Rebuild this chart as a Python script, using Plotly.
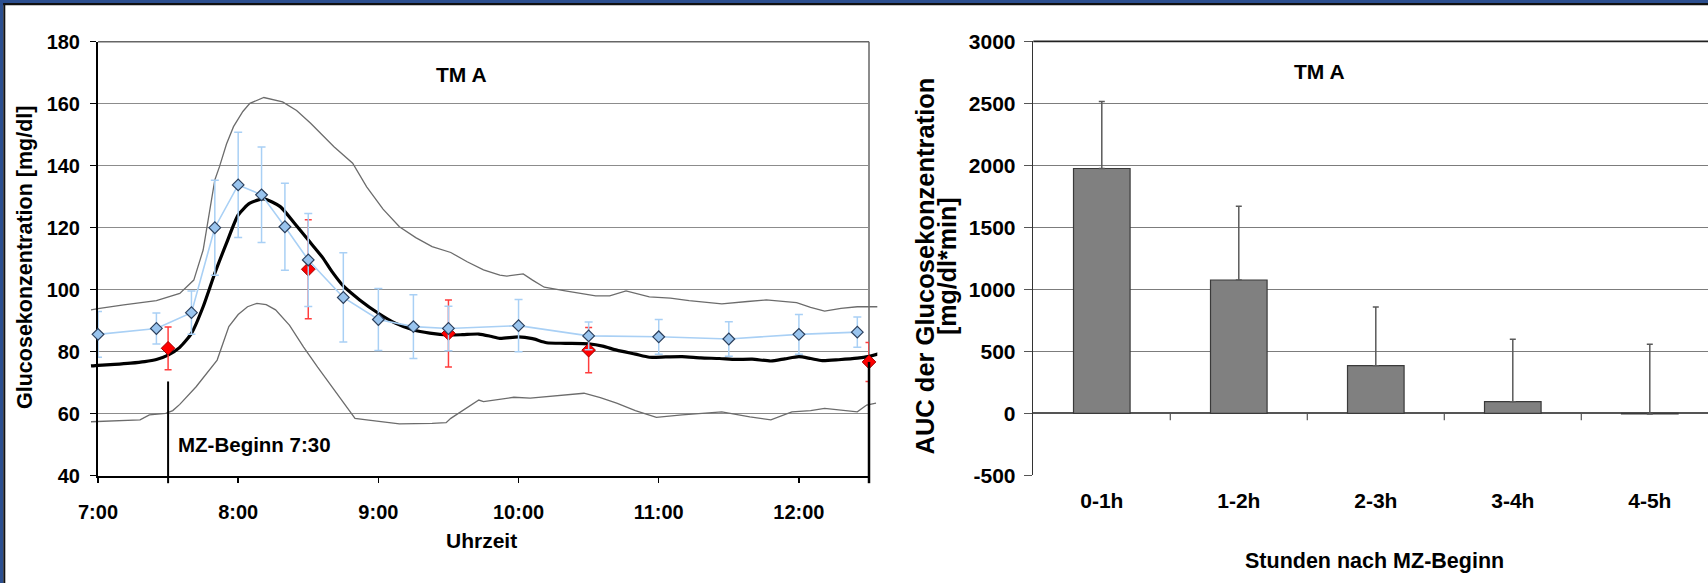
import plotly.graph_objects as go

# ---------------- data ----------------
time_ticks = ["7:00", "8:00", "9:00", "10:00", "11:00", "12:00"]
axis_start, axis_end = "7:00", "12:30"
meal_start = "7:30"
meal_line_top = 70.4          # mg/dl where the "MZ-Beginn" marker line starts

blue_times = ["7:00", "7:25", "7:40", "7:50", "8:00", "8:10", "8:20", "8:30", "8:45", "9:00",
              "9:15", "9:30", "10:00", "10:30", "11:00", "11:30", "12:00", "12:25"]
blue_mean = [85.6, 87.5, 92.6, 120.0, 133.8, 130.6, 120.3, 109.6, 97.5, 90.4,
             88.1, 87.5, 88.4, 85.1, 84.8, 84.1, 85.6, 86.3]
blue_sd = [7.4, 5.0, 7.0, 15.3, 17.0, 15.4, 14.0, 15.0, 14.4, 10.0,
           10.3, 7.2, 8.4, 4.5, 5.6, 5.6, 6.4, 4.9]

red_times = ["7:30", "8:30", "9:30", "10:30", "12:30"]
red_mean = [81.1, 106.6, 85.9, 80.5, 76.7]
red_sd = [6.9, 16.0, 10.8, 7.3, 6.3]

cgm_times = ["6:57", "7:00", "7:07", "7:14", "7:20", "7:25", "7:30", "7:35", "7:40", "7:45",
             "7:50", "7:55", "8:00", "8:05", "8:11", "8:18", "8:24", "8:30", "8:36", "8:40",
             "8:45", "8:52", "9:00", "9:07", "9:15", "9:22", "9:30", "9:36", "9:43", "9:48",
             "9:52", "10:00", "10:06", "10:12", "10:20", "10:30", "10:36", "10:42", "10:50", "10:56",
             "11:03", "11:10", "11:18", "11:26", "11:33", "11:40", "11:48", "11:54", "12:00", "12:05",
             "12:10", "12:17", "12:25", "12:30", "12:34"]
cgm_mean = [75.4, 75.6, 75.9, 76.3, 76.8, 77.5, 78.9, 81.4, 85.9, 94.5,
            105.3, 115.0, 124.1, 127.9, 129.3, 126.8, 121.5, 116.0, 110.5, 106.0,
            101.2, 96.7, 92.4, 89.3, 87.0, 86.0, 85.4, 85.5, 85.7, 85.0,
            84.3, 84.8, 84.2, 82.9, 82.7, 82.5, 81.8, 80.5, 79.2, 78.2,
            78.3, 78.4, 78.0, 77.8, 77.5, 77.6, 77.0, 77.7, 78.4, 77.8,
            77.1, 77.4, 77.9, 78.5, 79.3]

upper_times = ["6:57", "7:00", "7:11", "7:25", "7:35", "7:41", "7:45", "7:48", "7:50", "7:52",
               "7:55", "7:58", "8:02", "8:05", "8:11", "8:19", "8:25", "8:31", "8:41", "8:49",
               "8:55", "9:02", "9:09", "9:16", "9:23", "9:31", "9:38", "9:45", "9:52", "9:55",
               "10:02", "10:06", "10:11", "10:20", "10:33", "10:39", "10:46", "10:56", "11:05", "11:13",
               "11:27", "11:38", "11:46", "11:59", "12:05", "12:11", "12:18", "12:25", "12:34"]
upper_vals = [93.5, 93.9, 95.1, 96.5, 98.8, 103.1, 112.8, 126.0, 135.4, 139.7,
              147.0, 152.6, 157.5, 160.1, 162.0, 160.6, 157.8, 153.7, 146.1, 140.8,
              133.2, 126.0, 120.3, 116.8, 113.9, 112.0, 109.0, 106.4, 104.7, 104.4,
              105.1, 103.1, 100.8, 99.6, 98.0, 98.0, 99.6, 97.7, 97.3, 96.5,
              95.4, 96.2, 96.7, 95.8, 94.3, 93.1, 94.0, 94.5, 94.5]

lower_times = ["6:57", "7:08", "7:18", "7:22", "7:29", "7:32", "7:35", "7:42", "7:51", "7:56",
               "8:00", "8:04", "8:08", "8:12", "8:16", "8:22", "8:28", "8:34", "8:40", "8:45",
               "8:50", "8:55", "9:09", "9:23", "9:29", "9:31", "9:37", "9:43", "9:45", "9:52",
               "9:58", "10:05", "10:13", "10:20", "10:28", "10:35", "10:42", "10:50", "10:59", "11:10",
               "11:20", "11:27", "11:39", "11:48", "11:57", "12:05", "12:11", "12:20", "12:25", "12:29",
               "12:33"]
lower_vals = [57.4, 57.7, 58.0, 59.6, 60.1, 61.0, 63.0, 68.7, 77.3, 88.1,
              92.0, 94.5, 95.6, 95.2, 93.5, 88.5, 81.5, 75.0, 68.7, 63.5,
              58.5, 58.0, 56.7, 56.9, 57.1, 58.5, 61.5, 64.4, 63.9, 64.6,
              65.3, 65.0, 65.5, 66.0, 66.6, 65.2, 63.4, 61.0, 58.8, 59.6,
              60.2, 60.6, 59.0, 58.0, 60.6, 61.0, 61.7, 61.0, 60.6, 62.8,
              63.4]

auc_categories = ["0-1h", "1-2h", "2-3h", "3-4h", "4-5h"]
auc_values = [1974, 1075, 384, 94, -5]
auc_errors = [540, 594, 474, 504, 561]
auc_ticks = [-500, 0, 500, 1000, 1500, 2000, 2500, 3000]

# ---------------- layout geometry (pixels) ----------------
W, H = 1708, 583
L_X0, L_X1, L_Y0, L_Y1 = 98, 869, 41.7, 475.7
EXT = 8.3                     # the curves overhang the plot frame slightly
R_X0, R_Y0, R_Y1 = 1033.3, 41.3, 475.3
R_CAT_W = 137.0
FONT = "Liberation Sans, Arial, sans-serif"


def px(x):
    return x / W


def py(y):
    return 1 - y / H


def hours(t):
    h, m = t.split(":")
    return int(h) + int(m) / 60


def hl(lst):
    return [hours(t) for t in lst]


t0, t1 = hours(axis_start), hours(axis_end)
pph = (L_X1 - L_X0) / (t1 - t0)


def lx(h):
    return px(L_X0 + (h - t0) * pph)


def ly(v):
    return py(L_Y1 - (v - 40) / 140 * (L_Y1 - L_Y0))


BOLD = dict(family=FONT, size=20, color="black", weight="bold")
BOLD21 = dict(family=FONT, size=21, color="black", weight="bold")

fig = go.Figure()

# subplot 1: gridlines only
fig.add_trace(go.Scatter(x=[], y=[], xaxis="x", yaxis="y", showlegend=False))

# subplot 2: AUC bars
fig.add_trace(go.Bar(
    x=auc_categories, y=auc_values, width=0.413, xaxis="x2", yaxis="y2",
    marker=dict(color="#808080", line=dict(color="#3a3a3a", width=1.2)),
    error_y=dict(type="data", symmetric=False, array=auc_errors,
                 arrayminus=[0] * len(auc_errors), color="#5a5a5a",
                 thickness=1.5, width=3),
    showlegend=False))

# subplot 3: continuous curves (slightly wider domain)
for tt, vv in [(upper_times, upper_vals), (lower_times, lower_vals)]:
    fig.add_trace(go.Scatter(x=hl(tt), y=vv, mode="lines", xaxis="x3", yaxis="y3",
                             line=dict(color="#6c6c6c", width=1.3), showlegend=False))
fig.add_trace(go.Scatter(x=hl(cgm_times), y=cgm_mean, mode="lines", xaxis="x3", yaxis="y3",
                         line=dict(color="black", width=3.2, shape="spline", smoothing=0.6),
                         showlegend=False))

# subplot 4: measured points
fig.add_trace(go.Scatter(
    x=hl(red_times), y=red_mean, mode="markers", xaxis="x4", yaxis="y4", cliponaxis=False,
    marker=dict(symbol="diamond", size=10.5, color="#ff0000", line=dict(color="#a00000", width=1)),
    error_y=dict(type="data", array=red_sd, color="#ff3d3d", thickness=1.5, width=3.5),
    showlegend=False))
fig.add_trace(go.Scatter(
    x=hl(blue_times), y=blue_mean, mode="lines+markers", xaxis="x4", yaxis="y4", cliponaxis=False,
    line=dict(color="#a9d0f5", width=1.6),
    marker=dict(symbol="diamond", size=9, color="#99c4ee", line=dict(color="#2b3f5c", width=1.2)),
    error_y=dict(type="data", array=blue_sd, color="#a9d0f5", thickness=1.5, width=4),
    showlegend=False))

ldom_x = [px(L_X0), px(L_X1)]
ldom_y = [py(L_Y1), py(L_Y0)]
ext_lo = t0 - EXT / pph
ext_hi = t1 + EXT / pph
r_hi = -0.5 + (W - R_X0) / R_CAT_W

fig.update_layout(
    width=W, height=H, autosize=False,
    margin=dict(l=0, r=0, t=0, b=0, pad=0, autoexpand=False),
    paper_bgcolor="white", plot_bgcolor="rgba(0,0,0,0)",
    showlegend=False,
    xaxis=dict(domain=ldom_x, range=[t0, t1], anchor="y", showgrid=False, zeroline=False,
               showline=False, showticklabels=False, ticks="", fixedrange=True, automargin=False),
    yaxis=dict(domain=ldom_y, range=[40, 180], anchor="x", dtick=20, tick0=40,
               showgrid=True, gridcolor="#8c8c8c", gridwidth=1.5, zeroline=False,
               showline=False, showticklabels=False, ticks="", fixedrange=True, automargin=False),
    xaxis3=dict(domain=[px(L_X0 - EXT), px(L_X1 + EXT)], range=[ext_lo, ext_hi], anchor="y3",
                visible=False, fixedrange=True, automargin=False),
    yaxis3=dict(domain=ldom_y, range=[40, 180], anchor="x3", visible=False, fixedrange=True,
                automargin=False),
    xaxis4=dict(domain=ldom_x, range=[t0, t1], anchor="y4", layer="below traces",
                tickvals=hl(time_ticks), ticktext=time_ticks, ticks="outside", ticklen=5,
                tickwidth=1.5, tickcolor="black", showline=True, linecolor="black", linewidth=2,
                showgrid=False, zeroline=False, tickfont=BOLD, ticklabelstandoff=12,
                fixedrange=True, automargin=False),
    yaxis4=dict(domain=ldom_y, range=[40, 180], anchor="x4", layer="below traces",
                dtick=20, tick0=40, ticks="outside", ticklen=6, tickwidth=1.5, tickcolor="black",
                showline=True, linecolor="black", linewidth=2, showgrid=False, zeroline=False,
                tickfont=BOLD, ticklabelstandoff=6, fixedrange=True, automargin=False),
    xaxis2=dict(domain=[px(R_X0), 1.0], range=[-0.5, r_hi], anchor="y2", type="category",
                showgrid=False, zeroline=False, showline=False, ticks="",
                tickfont=BOLD21, ticklabelstandoff=11, fixedrange=True, automargin=False),
    yaxis2=dict(domain=[py(R_Y1), py(R_Y0)], range=[-500, 3000], anchor="x2",
                tickvals=auc_ticks, ticktext=[str(v) for v in auc_ticks],
                showgrid=True, gridcolor="#7c7c7c", gridwidth=1.5,
                zeroline=True, zerolinecolor="#555555", zerolinewidth=1.6,
                showline=True, linecolor="#333333", linewidth=1.6,
                ticks="outside", ticklen=8, tickwidth=1.2, tickcolor="#555555",
                tickfont=BOLD21, ticklabelstandoff=4, fixedrange=True, automargin=False),
)

shapes = []
# outer slide border (blue + black) on top and left
shapes += [
    dict(type="rect", xref="paper", yref="paper", x0=0, x1=1, y0=py(3), y1=1,
         fillcolor="#2c4f8f", line=dict(width=0), layer="above"),
    dict(type="rect", xref="paper", yref="paper", x0=0, x1=1, y0=py(5.3), y1=py(3),
         fillcolor="#111111", line=dict(width=0), layer="above"),
    dict(type="rect", xref="paper", yref="paper", x0=0, x1=px(3.3), y0=0, y1=1,
         fillcolor="#2c4f8f", line=dict(width=0), layer="above"),
    dict(type="rect", xref="paper", yref="paper", x0=px(3.3), x1=px(5.3), y0=0, y1=py(3),
         fillcolor="#111111", line=dict(width=0), layer="above"),
]
# left chart frame (top / right)
shapes += [
    dict(type="line", xref="paper", yref="paper", x0=px(L_X0), x1=px(L_X1), y0=py(L_Y0), y1=py(L_Y0),
         line=dict(color="#666666", width=1.5), layer="below"),
    dict(type="line", xref="paper", yref="paper", x0=px(L_X1), x1=px(L_X1), y0=py(L_Y1), y1=py(L_Y0),
         line=dict(color="#666666", width=1.5), layer="below"),
]
# meal start and end marker lines
shapes += [
    dict(type="line", xref="paper", yref="paper", x0=lx(hours(meal_start)), x1=lx(hours(meal_start)),
         y0=ly(meal_line_top), y1=py(L_Y1 + 7.5), line=dict(color="black", width=2)),
    dict(type="line", xref="paper", yref="paper", x0=lx(t1), x1=lx(t1),
         y0=ly(red_mean[-1]), y1=py(L_Y1 + 7.5), line=dict(color="black", width=2.5)),
]
# right chart top line and category ticks on the zero line
shapes.append(dict(type="line", xref="paper", yref="paper", x0=px(R_X0), x1=1,
                   y0=py(R_Y0), y1=py(R_Y0), line=dict(color="#222222", width=1.8)))
for i in range(len(auc_categories) - 1):
    shapes.append(dict(type="line", xref="x2", yref="y2", ysizemode="pixel", yanchor=0,
                       x0=i + 0.5, x1=i + 0.5, y0=0, y1=-7,
                       line=dict(color="#555555", width=1.2)))
fig.update_layout(shapes=shapes)

TF = dict(family=FONT, color="black", weight="bold")
ann = [
    dict(text="TM A", x=px(461), y=py(74), font=dict(TF, size=21)),
    dict(text="TM A", x=px(1319), y=py(71), font=dict(TF, size=21)),
    dict(text="MZ-Beginn 7:30", x=px(176), y=py(444), xanchor="left", font=dict(TF, size=20.5)),
    dict(text="Uhrzeit", x=px(482), y=py(540), font=dict(TF, size=21)),
    dict(text="Glucosekonzentration [mg/dl]", x=px(25), y=py(258), textangle=-90,
         font=dict(TF, size=21.5)),
    dict(text="AUC der Glucosekonzentration", x=px(924), y=py(266.5), textangle=-90,
         font=dict(TF, size=25.5)),
    dict(text="[mg/dl*min]", x=px(947), y=py(266), textangle=-90,
         font=dict(TF, size=25)),
    dict(text="Stunden nach MZ-Beginn", x=px(1374), y=py(561), font=dict(TF, size=21.5)),
]
for a in ann:
    a.update(xref="paper", yref="paper", showarrow=False, xanchor=a.get("xanchor", "center"),
             yanchor="middle")
fig.update_layout(annotations=ann)

fig.write_html("out.html", config={"displayModeBar": False, "staticPlot": True},
               post_script="document.body.style.margin='0px';document.body.style.overflow='hidden';")
